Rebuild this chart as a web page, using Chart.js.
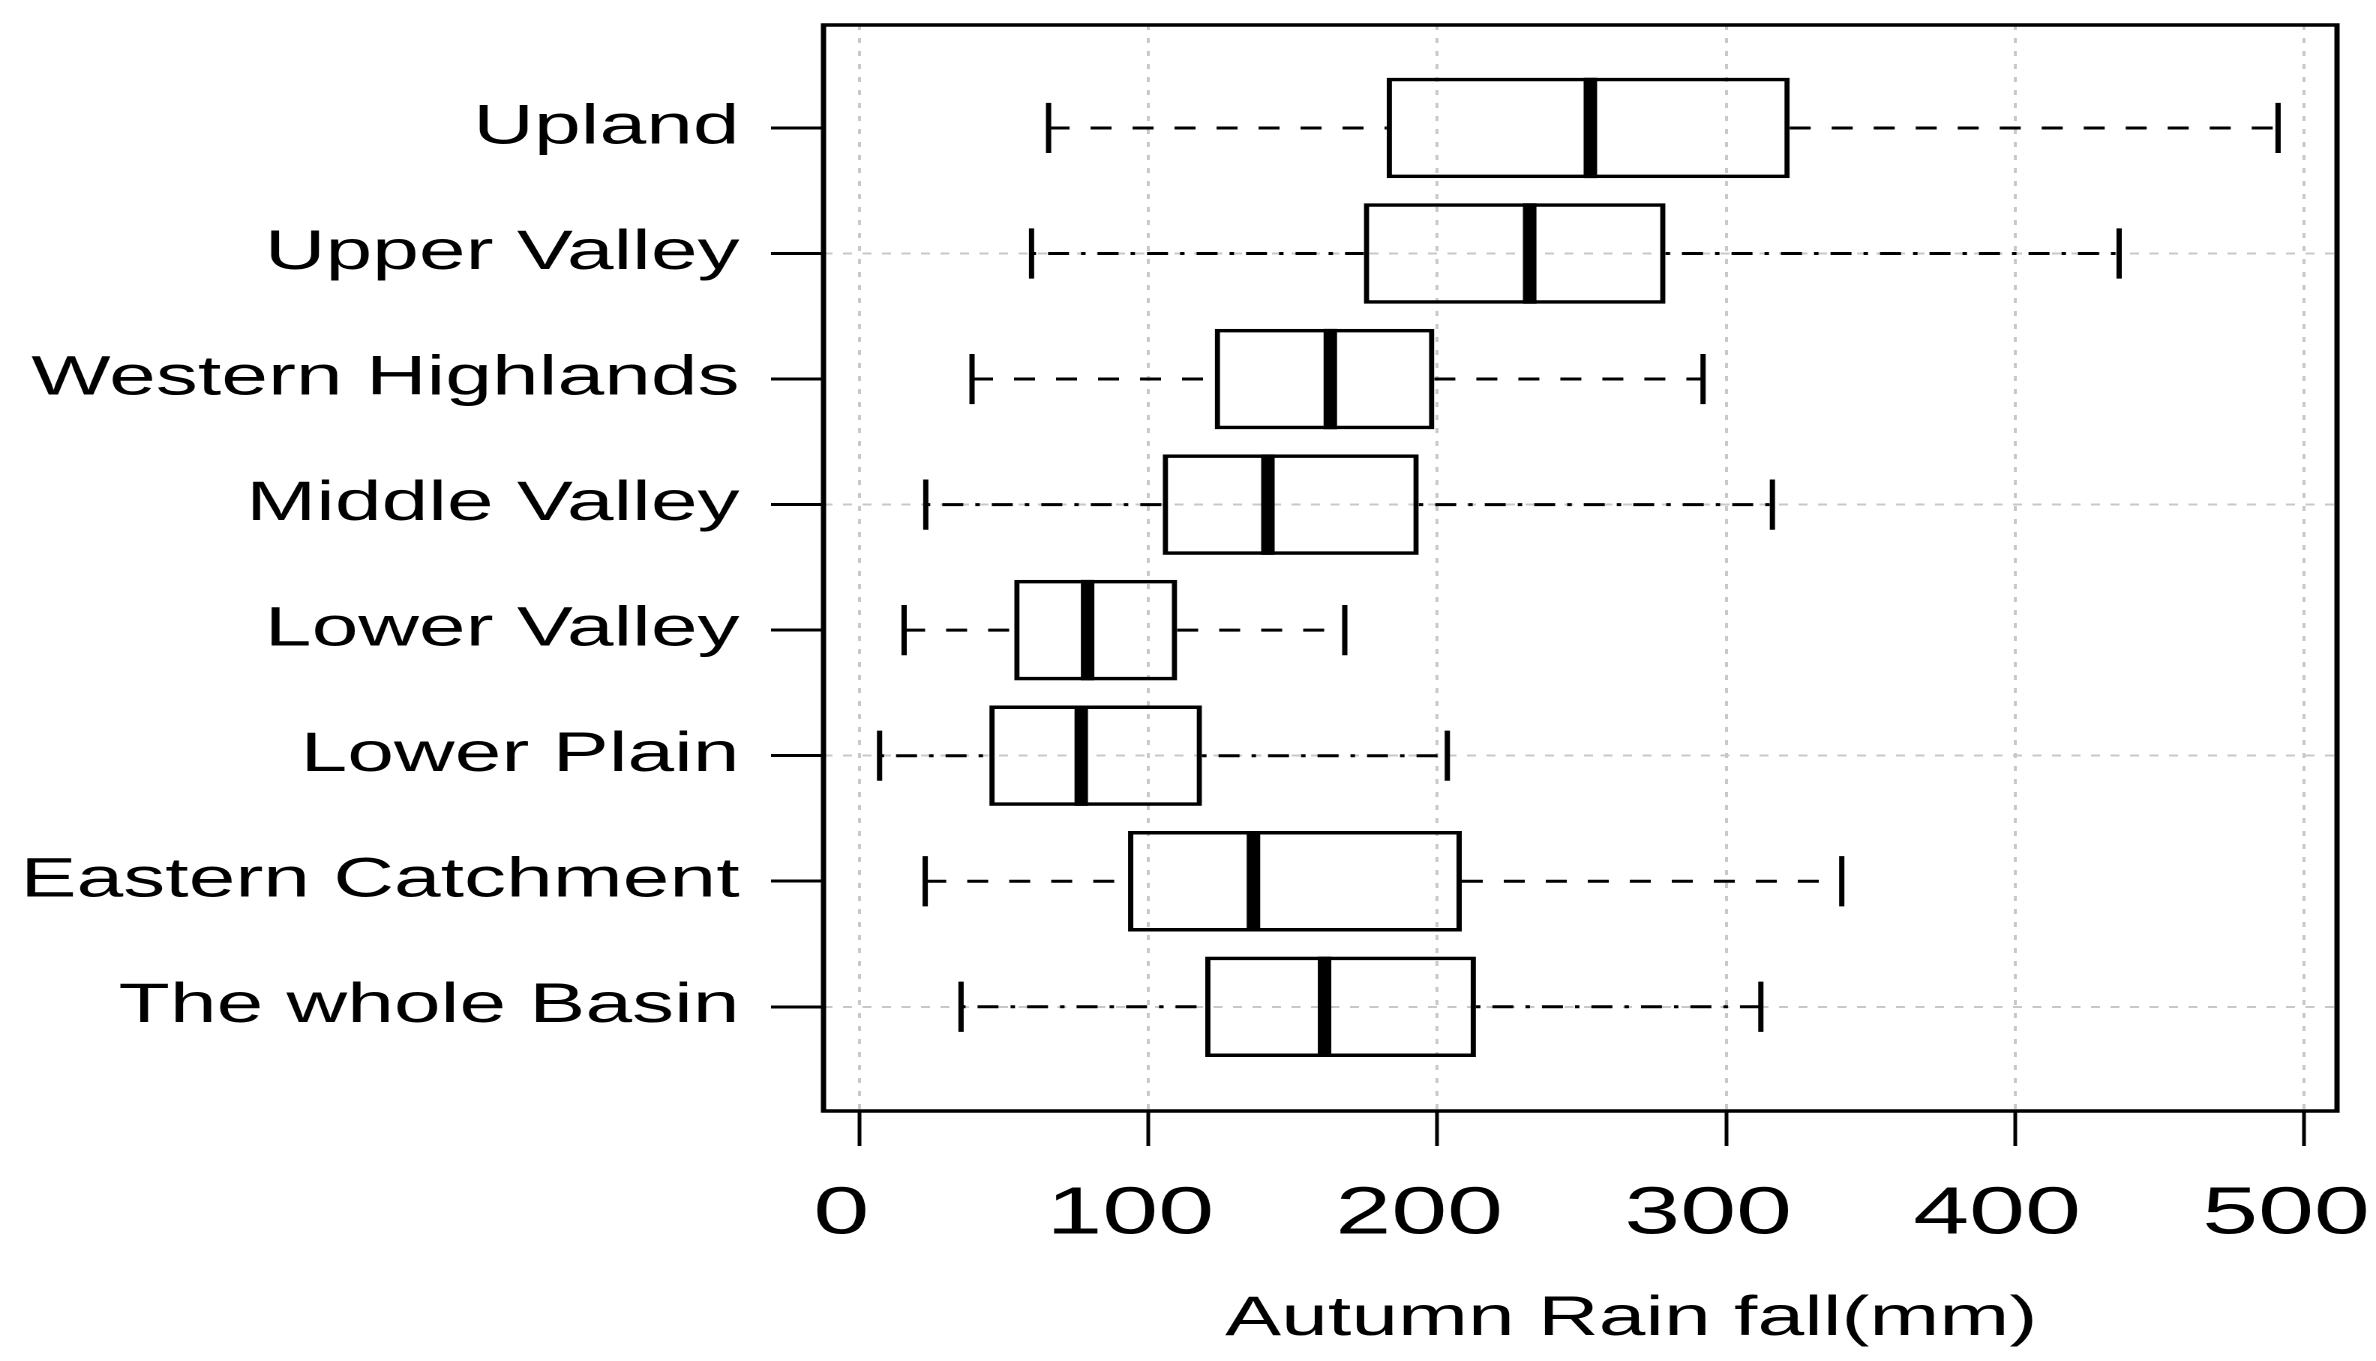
<!DOCTYPE html>
<html>
<head>
<meta charset="utf-8">
<script src="https://cdn.jsdelivr.net/npm/chart.js@4.4.1/dist/chart.umd.min.js"></script>
<style>
  html, body { margin: 0; padding: 0; background: #fff; overflow: hidden; }
  /* the original figure is stretched sideways, so the whole chart is drawn narrow and widened */
  #wrap { position: absolute; left: 0; top: 0; width: 1584px; height: 1361px;
          transform: scaleX(1.5); transform-origin: 0 0; }
</style>
</head>
<body>
<div id="wrap"><canvas id="boxChart"></canvas></div>
<script>
// data (mm)
const regions = ['Upland', 'Upper Valley', 'Western Highlands', 'Middle Valley',
                 'Lower Valley', 'Lower Plain', 'Eastern Catchment', 'The whole Basin'];
const whiskerLow  = [65.5, 59.6, 39, 23, 15.5, 7, 22.8, 35.2];
const lowerQuart  = [182.5, 174.6, 123, 105, 53.6, 45, 93, 119.7];
const medians     = [253, 232, 163, 141.4, 79, 76.8, 136.4, 161];
const upperQuart  = [322, 279, 199, 193.6, 110, 118.6, 208.5, 213.4];
const whiskerHigh = [491, 436, 292, 316, 168, 203.5, 340, 312];
const lineTypes   = ['dashed', 'dotdash', 'dashed', 'dotdash', 'dashed', 'dotdash', 'dashed', 'dotdash'];
const xTicks = [0, 100, 200, 300, 400, 500];
const xTitle = 'Autumn Rain fall(mm)';

const FONT = "'Liberation Sans', Arial, sans-serif";
const dashes = { dashed: [14, 14], dotdash: [3, 8, 14, 8] };

// whiskers, caps, medians, the frame round the plot and the x title
const boxPlugin = {
  id: 'boxExtras',
  afterDatasetsDraw(chart) {
    const ctx = chart.ctx;
    const xs = chart.scales.x, ys = chart.scales.y;
    const bars = chart.getDatasetMeta(0).data;
    ctx.save();
    ctx.strokeStyle = '#000';
    regions.forEach((r, i) => {
      const yc = ys.getPixelForValue(i + 1);
      const half = bars[i].height / 2;
      const capHalf = half / 2;
      const xl = xs.getPixelForValue(whiskerLow[i]);
      const x1 = xs.getPixelForValue(lowerQuart[i]);
      const x3 = xs.getPixelForValue(upperQuart[i]);
      const xh = xs.getPixelForValue(whiskerHigh[i]);
      const xm = xs.getPixelForValue(medians[i]);

      // whisker lines
      ctx.lineWidth = 3;
      ctx.setLineDash(dashes[lineTypes[i]]);
      ctx.beginPath();
      ctx.moveTo(xl, yc); ctx.lineTo(x1, yc);
      ctx.moveTo(x3, yc); ctx.lineTo(xh, yc);
      ctx.stroke();
      ctx.setLineDash([]);

      // staples
      ctx.lineWidth = 3.5;
      ctx.beginPath();
      ctx.moveTo(xl, yc - capHalf); ctx.lineTo(xl, yc + capHalf);
      ctx.moveTo(xh, yc - capHalf); ctx.lineTo(xh, yc + capHalf);
      ctx.stroke();

      // median
      ctx.lineWidth = 9;
      ctx.beginPath();
      ctx.moveTo(xm, yc - half); ctx.lineTo(xm, yc + half);
      ctx.stroke();
    });
    const a = chart.chartArea;
    ctx.lineWidth = 3.5;
    ctx.strokeRect(a.left, a.top, a.right - a.left, a.bottom - a.top);

    // axis title, sitting a little right of the plot centre as in the figure
    ctx.fillStyle = '#000';
    ctx.font = '56px ' + FONT;
    ctx.textAlign = 'center';
    ctx.textBaseline = 'alphabetic';
    ctx.fillText(xTitle, (a.left + a.right) / 2 + 34, chart.height - 26);
    ctx.restore();
  }
};

const boxData = regions.map((r, i) => ({ x: [lowerQuart[i], upperQuart[i]], y: i + 1 }));

new Chart(document.getElementById('boxChart'), {
  type: 'bar',
  data: {
    datasets: [{
      data: boxData,
      backgroundColor: 'rgba(0,0,0,0)',
      borderColor: '#000',
      borderWidth: 3.5,
      borderSkipped: false,
      barPercentage: 0.8,
      categoryPercentage: 1
    }]
  },
  options: {
    indexAxis: 'y',
    responsive: true,
    maintainAspectRatio: false,
    animation: false,
    devicePixelRatio: 2,
    layout: { padding: { top: 25, right: 26, left: 0, bottom: 0 } },
    plugins: { legend: { display: false }, tooltip: { enabled: false } },
    scales: {
      x: {
        type: 'linear',
        min: -12.4,
        max: 511.4,
        offset: false,
        afterBuildTicks: (s) => { s.ticks = xTicks.map(v => ({ value: v })); },
        afterFit: (s) => { s.height = 250; s.paddingLeft = 0; s.paddingRight = 0; },
        border: { display: false, dash: [5, 8] },
        grid: { offset: false, color: '#c8c8c8', lineWidth: 2, tickColor: '#000', tickWidth: 2.5, tickLength: 35 },
        ticks: { color: '#000', padding: 29, labelOffset: -12, font: { family: FONT, size: 67 } }
      },
      y: {
        type: 'linear',
        reverse: true,
        offset: false,
        min: 0.18,
        max: 8.83,
        afterBuildTicks: (s) => { s.ticks = regions.map((r, i) => ({ value: i + 1 })); },
        afterFit: (s) => { s.width = 549; s.paddingTop = 0; s.paddingBottom = 0; },
        border: { display: false, dash: [6, 7] },
        grid: {
          offset: false,
          color: (c) => (c.index % 2 === 1 ? '#c8c8c8' : 'rgba(0,0,0,0)'),
          lineWidth: 2,
          tickColor: '#000',
          tickWidth: 3,
          tickLength: 35
        },
        ticks: {
          color: '#000',
          padding: 21,
          autoSkip: false,
          font: { family: FONT, size: 56 },
          callback: (v) => regions[v - 1] || ''
        }
      }
    }
  },
  plugins: [boxPlugin]
});
</script>
</body>
</html>
